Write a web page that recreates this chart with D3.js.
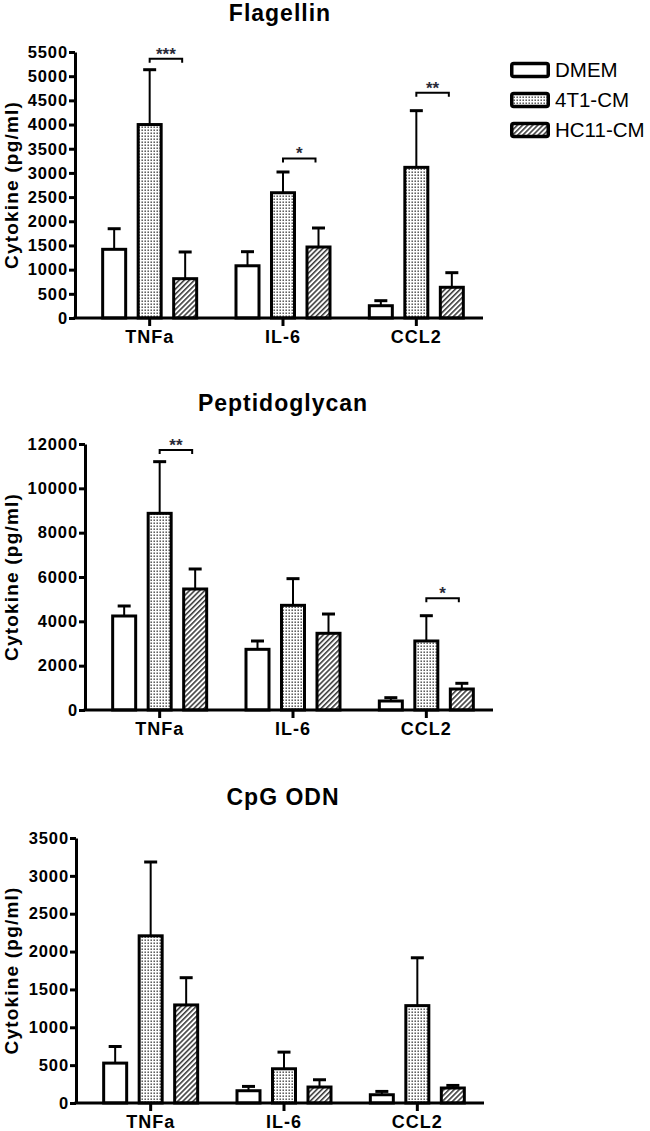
<!DOCTYPE html>
<html><head><meta charset="utf-8">
<script src="https://cdn.jsdelivr.net/npm/d3@7"></script>
<style>
body{margin:0;background:#fff}
svg{display:block;font-family:Arial,"Liberation Sans",sans-serif}
</style>
</head><body>
<svg id="c" width="650" height="1131"></svg>
<script>
// ---------- data ----------
const categories = ["TNFa", "IL-6", "CCL2"];
const seriesNames = ["DMEM", "4T1-CM", "HC11-CM"];
const titles = ["Flagellin", "Peptidoglycan", "CpG ODN"];
const yLabel = "Cytokine (pg/ml)";

// Flagellin
const flagDMEM = [1420, 1080, 254];
const flag4T1 = [4000, 2590, 3115];
const flagHC11 = [813, 1468, 635];
const flagDMEMErr = [426, 291, 104];
const flag4T1Err = [1134, 429, 1172];
const flagHC11Err = [552, 393, 302];
const flagTicks = [0, 500, 1000, 1500, 2000, 2500, 3000, 3500, 4000, 4500, 5000, 5500];
const flagSig = [["TNFa", "***", 5360], ["IL-6", "*", 3300], ["CCL2", "**", 4660]];

// Peptidoglycan
const pgDMEM = [4241, 2737, 406];
const pg4T1 = [8872, 4722, 3113];
const pgHC11 = [5459, 3460, 947];
const pgDMEMErr = [451, 376, 150];
const pg4T1Err = [2331, 1203, 1141];
const pgHC11Err = [902, 870, 257];
const pgTicks = [0, 2000, 4000, 6000, 8000, 10000, 12000];
const pgSig = [["TNFa", "**", 11730], ["CCL2", "*", 5040]];

// CpG ODN
const cpgDMEM = [527, 162, 109];
const cpg4T1 = [2208, 452, 1286];
const cpgHC11 = [1295, 211, 198];
const cpgDMEMErr = [219, 57, 44];
const cpg4T1Err = [975, 220, 632];
const cpgHC11Err = [360, 96, 34];
const cpgTicks = [0, 500, 1000, 1500, 2000, 2500, 3000, 3500];
const cpgSig = [];

// ---------- layout ----------
const panels = [
  {title: titles[0], means: [flagDMEM, flag4T1, flagHC11], errs: [flagDMEMErr, flag4T1Err, flagHC11Err],
   ticks: flagTicks, sig: flagSig, ax: 75, yTop: 52, yBot: 318, xEnd: 483, titleX: 280, titleY: 21},
  {title: titles[1], means: [pgDMEM, pg4T1, pgHC11], errs: [pgDMEMErr, pg4T1Err, pgHC11Err],
   ticks: pgTicks, sig: pgSig, ax: 85, yTop: 444, yBot: 710, xEnd: 493, titleX: 283, titleY: 411},
  {title: titles[2], means: [cpgDMEM, cpg4T1, cpgHC11], errs: [cpgDMEMErr, cpg4T1Err, cpgHC11Err],
   ticks: cpgTicks, sig: cpgSig, ax: 76, yTop: 838, yBot: 1103, xEnd: 484, titleX: 283, titleY: 805}
];

const svg = d3.select("#c");
const defs = svg.append("defs");

// dotted pattern
const dots = defs.append("pattern").attr("id", "dots").attr("patternUnits", "userSpaceOnUse")
  .attr("width", 3).attr("height", 3);
dots.append("rect").attr("width", 3).attr("height", 3).attr("fill", "#fff");
dots.append("rect").attr("x", 0.5).attr("y", 0.5).attr("width", 1.4).attr("height", 1.4).attr("fill", "#3a3a3a");

// hatch pattern
const hatch = defs.append("pattern").attr("id", "hatch").attr("patternUnits", "userSpaceOnUse")
  .attr("width", 3.6).attr("height", 3.6).attr("patternTransform", "rotate(45)");
hatch.append("rect").attr("width", 3.6).attr("height", 3.6).attr("fill", "#fff");
hatch.append("line").attr("x1", 0.8).attr("y1", 0).attr("x2", 0.8).attr("y2", 3.6)
  .attr("stroke", "#222").attr("stroke-width", 1.4);

const fills = {"DMEM": "#fff", "4T1-CM": "url(#dots)", "HC11-CM": "url(#hatch)"};

const inner = d3.scaleBand().domain(seriesNames).range([-53.25, 53.25])
  .paddingInner(0.352).paddingOuter(0.176);

panels.forEach(p => {
  const g = svg.append("g");
  const maxV = p.ticks[p.ticks.length - 1];
  const y = d3.scaleLinear().domain([0, maxV]).range([p.yBot, p.yTop]);
  const x = d3.scaleBand().domain(categories).range([p.ax + 8, p.xEnd]).padding(0);

  // title
  g.append("text").attr("x", p.titleX).attr("y", p.titleY).attr("text-anchor", "middle")
    .attr("font-weight", "bold").attr("font-size", 23).attr("letter-spacing", 1)
    .text(p.title);

  // y label
  g.append("text").attr("transform", "rotate(-90)")
    .attr("x", -(p.yTop + p.yBot) / 2).attr("y", 18).attr("text-anchor", "middle")
    .attr("font-weight", "bold").attr("font-size", 19).attr("letter-spacing", 1.2)
    .text(yLabel);

  // data rows
  const rows = [];
  seriesNames.forEach((s, si) => {
    categories.forEach((c, ci) => {
      rows.push({s, c, v: p.means[si][ci], e: p.errs[si][ci]});
    });
  });
  const cx = d => x(d.c) + x.bandwidth() / 2 + inner(d.s) + inner.bandwidth() / 2;

  // error bars
  const eb = g.append("g").selectAll("g").data(rows).join("g");
  eb.append("line").attr("x1", cx).attr("x2", cx)
    .attr("y1", d => y(d.v)).attr("y2", d => y(d.v + d.e))
    .attr("stroke", "#000").attr("stroke-width", 2);
  eb.append("line").attr("x1", d => cx(d) - 6.5).attr("x2", d => cx(d) + 6.5)
    .attr("y1", d => y(d.v + d.e)).attr("y2", d => y(d.v + d.e))
    .attr("stroke", "#000").attr("stroke-width", 3);

  // bars
  g.append("g").selectAll("rect").data(rows).join("rect")
    .attr("x", d => x(d.c) + x.bandwidth() / 2 + inner(d.s))
    .attr("width", inner.bandwidth())
    .attr("y", d => y(d.v))
    .attr("height", d => y(0) - y(d.v))
    .attr("fill", d => fills[d.s])
    .attr("stroke", "#000").attr("stroke-width", 3);

  // y axis
  const ya = g.append("g").attr("transform", `translate(${p.ax},0)`)
    .call(d3.axisLeft(y).tickValues(p.ticks).tickFormat(d3.format("d")).tickSize(6).tickSizeOuter(0).tickPadding(1));
  ya.select(".domain").attr("stroke-width", 3);
  ya.selectAll(".tick line").attr("stroke-width", 3);
  ya.selectAll(".tick text").attr("font-size", 16.5).attr("font-weight", "bold")
    .attr("letter-spacing", 0.9).attr("fill", "#000").attr("font-family", "Arial, 'Liberation Sans', sans-serif");

  // x axis
  const xa = g.append("g").attr("transform", `translate(0,${p.yBot})`)
    .call(d3.axisBottom(x).tickSize(8).tickSizeOuter(0));
  xa.select(".domain").remove();
  xa.selectAll(".tick line").attr("stroke-width", 3);
  xa.selectAll(".tick text").attr("y", 25).attr("dy", 0).attr("font-size", 18).attr("font-weight", "bold")
    .attr("letter-spacing", 1).attr("fill", "#000").attr("font-family", "Arial, 'Liberation Sans', sans-serif");
  g.append("line").attr("x1", p.ax - 1.5).attr("x2", p.xEnd).attr("y1", p.yBot).attr("y2", p.yBot)
    .attr("stroke", "#000").attr("stroke-width", 3);

  // significance brackets
  p.sig.forEach(([c, label, v]) => {
    const x1 = x(c) + x.bandwidth() / 2 + inner("4T1-CM") + inner.bandwidth() / 2;
    const x2 = x(c) + x.bandwidth() / 2 + inner("HC11-CM") + inner.bandwidth() / 2 - 3;
    const yy = y(v);
    g.append("path").attr("d", `M${x1},${yy + 4}V${yy}H${x2}V${yy + 4}`)
      .attr("fill", "none").attr("stroke", "#000").attr("stroke-width", 2);
    g.append("text").attr("x", (x1 + x2) / 2).attr("y", yy + 1).attr("text-anchor", "middle")
      .attr("font-size", 17).attr("font-weight", "bold").attr("fill", "#2a2a38").text(label);
  });
});

// legend
const lg = svg.append("g");
seriesNames.forEach((s, i) => {
  lg.append("rect").attr("x", 511.75).attr("y", 63.5 + i * 30).attr("width", 36.5).attr("height", 13)
    .attr("rx", 2).attr("fill", fills[s]).attr("stroke", "#000").attr("stroke-width", 3.5);
  lg.append("text").attr("x", 555).attr("y", 76.7 + i * 30).attr("font-size", 20.5).attr("fill", "#000")
    .text(s);
});
</script>
</body></html>
